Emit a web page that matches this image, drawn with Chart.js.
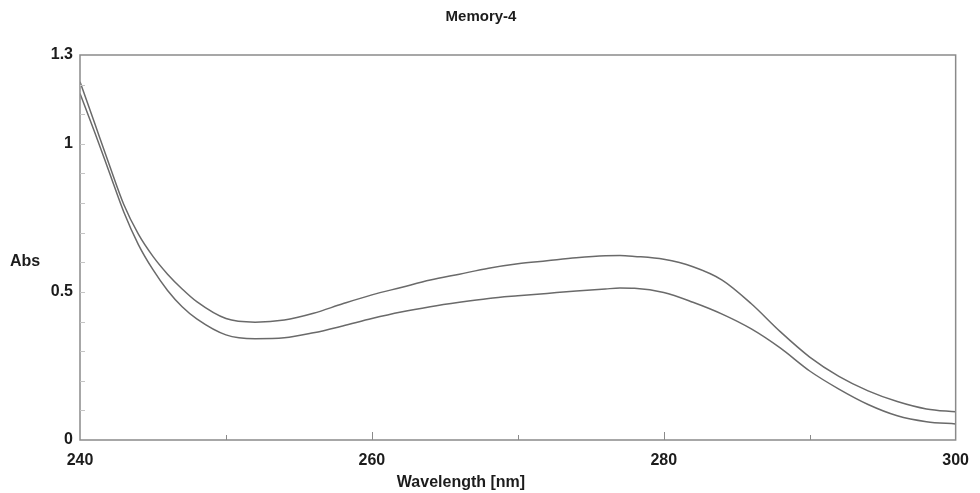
<!DOCTYPE html>
<html>
<head>
<meta charset="utf-8">
<script src="https://cdn.jsdelivr.net/npm/chart.js@4"></script>
<style>
  body { margin: 0; background: #fff; }
  #wrap { width: 980px; height: 493px; }
</style>
</head>
<body>
<div id="wrap"><canvas id="absChart" width="980" height="493"></canvas></div>
<script>
// spectrum, nm / Abs
const wavelengths = [240, 241, 242, 243, 244, 245, 246, 247, 248, 250, 252, 254, 256, 258, 260, 262, 264, 266, 268, 270,
  272, 274, 276, 277, 278, 280, 282, 284, 286, 288, 290, 292, 294, 296, 298, 300];
const absUpper = [1.21, 1.07, 0.93, 0.795, 0.695, 0.62, 0.56, 0.51, 0.467, 0.41, 0.398, 0.405, 0.428, 0.46, 0.49, 0.515, 0.54, 0.56, 0.58, 0.595,
  0.605, 0.615, 0.622, 0.623, 0.62, 0.61, 0.585, 0.54, 0.46, 0.365, 0.28, 0.215, 0.166, 0.13, 0.105, 0.095];
const absLower = [1.17, 1.04, 0.905, 0.77, 0.66, 0.575, 0.505, 0.45, 0.409, 0.355, 0.342, 0.345, 0.362, 0.385, 0.41, 0.432, 0.45, 0.465, 0.478, 0.487,
  0.495, 0.503, 0.51, 0.513, 0.512, 0.498, 0.465, 0.425, 0.375, 0.31, 0.233, 0.172, 0.12, 0.082, 0.062, 0.054];

const xTickValues = [240, 260, 280, 300];
const xMinorTicks = [250, 270, 290];
const yTickValues = [0, 0.5, 1, 1.3];
const yMinorTicks = [0.1, 0.2, 0.3, 0.4, 0.6, 0.7, 0.8, 0.9, 1.1, 1.2];

const chartTitle = "Memory-4";
const xTitle = "Wavelength [nm]";
const yTitle = "Abs";

const lineColor = "#6a6a6a";
const frameColor = "#8a8a8a";
const textColor = "#1c1c1c";
const fontFamily = "'Liberation Sans', Arial, sans-serif";

function toPoints(ys) {
  return wavelengths.map((x, i) => ({ x: x, y: ys[i] }));
}

const framePlugin = {
  id: "frame",
  afterDraw(chart) {
    const ctx = chart.ctx;
    const a = chart.chartArea;
    const xs = chart.scales.x;
    const ys = chart.scales.y;
    ctx.save();
    ctx.strokeStyle = frameColor;
    ctx.lineWidth = 1.5;
    ctx.strokeRect(a.left, a.top, a.right - a.left, a.bottom - a.top);

    // inward tick marks
    ctx.lineWidth = 1;
    ctx.beginPath();
    xTickValues.slice(1, -1).forEach(v => {
      const px = Math.round(xs.getPixelForValue(v)) + 0.5;
      ctx.moveTo(px, a.bottom); ctx.lineTo(px, a.bottom - 8);
    });
    xMinorTicks.forEach(v => {
      const px = Math.round(xs.getPixelForValue(v)) + 0.5;
      ctx.moveTo(px, a.bottom); ctx.lineTo(px, a.bottom - 5);
    });
    ctx.stroke();

    ctx.strokeStyle = "#c4c4c4";
    ctx.beginPath();
    yTickValues.slice(1, -1).concat(yMinorTicks).forEach(v => {
      const py = Math.round(ys.getPixelForValue(v)) + 0.5;
      ctx.moveTo(a.left, py); ctx.lineTo(a.left + 5, py);
    });
    ctx.stroke();

    // titles
    ctx.fillStyle = textColor;
    ctx.font = "bold 15px " + fontFamily;
    ctx.textAlign = "center";
    ctx.textBaseline = "middle";
    ctx.fillText(chartTitle, 481, 17);
    ctx.font = "bold 16px " + fontFamily;
    ctx.fillText(xTitle, 461, 483);
    ctx.textAlign = "left";
    ctx.fillText(yTitle, 10, 262);
    ctx.restore();
  }
};

new Chart("absChart", {
  type: "line",
  data: {
    datasets: [
      { data: toPoints(absUpper), borderColor: lineColor, borderWidth: 1.5, pointRadius: 0, cubicInterpolationMode: "monotone", fill: false },
      { data: toPoints(absLower), borderColor: lineColor, borderWidth: 1.5, pointRadius: 0, cubicInterpolationMode: "monotone", fill: false }
    ]
  },
  options: {
    responsive: false,
    animation: false,
    layout: { padding: { top: 55, right: 20, left: 0, bottom: 0 } },
    plugins: {
      legend: { display: false },
      title: { display: false },
      tooltip: { enabled: false }
    },
    scales: {
      x: {
        type: "linear",
        min: 240,
        max: 300,
        afterBuildTicks: s => { s.ticks = xTickValues.map(v => ({ value: v })); },
        afterFit: s => { s.height = 53; },
        grid: { display: false, drawTicks: false },
        border: { display: false },
        ticks: { color: textColor, font: { family: fontFamily, size: 16, weight: "bold" }, padding: 11, maxRotation: 0, autoSkip: false }
      },
      y: {
        type: "linear",
        min: 0,
        max: 1.3,
        afterBuildTicks: s => { s.ticks = yTickValues.map(v => ({ value: v })); },
        afterFit: s => { s.width = 80; },
        grid: { display: false, drawTicks: false },
        border: { display: false },
        ticks: { color: textColor, font: { family: fontFamily, size: 16, weight: "bold" }, padding: 7, autoSkip: false, callback: v => String(v) }
      }
    }
  },
  plugins: [framePlugin]
});
</script>
</body>
</html>
